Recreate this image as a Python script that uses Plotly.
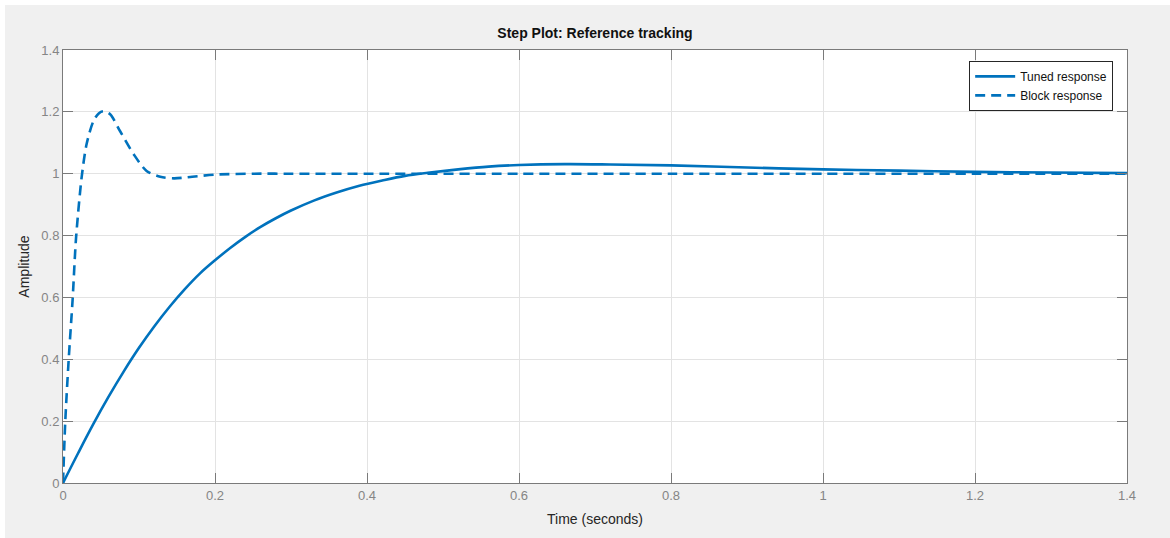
import plotly.graph_objects as go

# Tuned response
tuned_t = [0, 0.02, 0.04, 0.06, 0.08, 0.10, 0.12, 0.14, 0.16, 0.18, 0.20, 0.22, 0.24,
           0.26, 0.28, 0.30, 0.33, 0.36, 0.39, 0.42, 0.45, 0.48, 0.52, 0.56, 0.60,
           0.66, 0.72, 0.80, 0.90, 1.0, 1.1, 1.2, 1.3, 1.4]
tuned_a = [0, 0.097, 0.191, 0.279, 0.361, 0.437, 0.506, 0.569, 0.626, 0.677, 0.720, 0.760, 0.796,
           0.828, 0.856, 0.881, 0.913, 0.939, 0.961, 0.978, 0.993, 1.003, 1.014, 1.023, 1.028,
           1.031, 1.030, 1.027, 1.020, 1.014, 1.010, 1.006, 1.004, 1.002]

# Block response
block_t = [0, 0.003, 0.0075, 0.0127, 0.0171, 0.0246, 0.031, 0.04, 0.047, 0.053,
           0.062, 0.075, 0.093, 0.11, 0.128, 0.146, 0.17, 0.2, 0.25, 0.3, 0.4,
           0.6, 0.8, 1.0, 1.2, 1.4]
block_a = [0, 0.2, 0.4, 0.595, 0.79, 0.99, 1.095, 1.17, 1.195, 1.202,
           1.192, 1.138, 1.063, 1.009, 0.99, 0.985, 0.99, 0.997, 1.0, 1.0, 1.0,
           1.0, 1.0, 1.0, 1.0, 1.0]

x_ticks = [0, 0.2, 0.4, 0.6, 0.8, 1, 1.2, 1.4]
x_tick_labels = ["0", "0.2", "0.4", "0.6", "0.8", "1", "1.2", "1.4"]
y_ticks = [0, 0.2, 0.4, 0.6, 0.8, 1, 1.2, 1.4]
y_tick_labels = ["0", "0.2", "0.4", "0.6", "0.8", "1", "1.2", "1.4"]

BLUE = "#0072BD"
AX = "#7a7a7a"
FONT = "Liberation Sans, Arial, Helvetica, sans-serif"

fig = go.Figure()
fig.add_trace(go.Scatter(x=tuned_t, y=tuned_a, mode="lines", name="Tuned response",
                         line=dict(color=BLUE, width=2.6, shape="spline", smoothing=1.0)))
fig.add_trace(go.Scatter(x=block_t, y=block_a, mode="lines", name="Block response",
                         line=dict(color=BLUE, width=2.6, dash="10px,6px", shape="spline", smoothing=0.8)))

axis_common = dict(
    showline=True, linecolor=AX, linewidth=1, mirror="ticks",
    ticks="inside", ticklen=10, tickcolor=AX, tickwidth=1,
    showgrid=True, gridcolor="#e3e3e3", gridwidth=1, zeroline=False,
    tickfont=dict(family=FONT, size=13, color="#858585"),
)

fig.update_xaxes(range=[0, 1.4], tickvals=x_ticks, ticktext=x_tick_labels,
                 title=dict(text="Time (seconds)", font=dict(family=FONT, size=14, color="#262626"), standoff=12),
                 **axis_common)
fig.update_yaxes(range=[0, 1.4], tickvals=y_ticks, ticktext=y_tick_labels,
                 title=dict(text="Amplitude", font=dict(family=FONT, size=14, color="#262626"), standoff=8),
                 **axis_common)

fig.update_layout(
    width=1170, height=538,
    margin=dict(l=63, r=43, t=50, b=55),
    paper_bgcolor="#f0f0f0", plot_bgcolor="white",
    title=dict(text="<b>Step Plot: Reference tracking</b>", x=(63 + 1064 / 2) / 1170, xanchor="center",
               y=1 - 33 / 538, yanchor="middle", font=dict(family=FONT, size=14, color="#111111")),
    legend=dict(x=0.987, y=0.975, xanchor="right", yanchor="top", bgcolor="white",
                bordercolor="#262626", borderwidth=1, font=dict(family=FONT, size=12, color="#111111"),
                itemwidth=40, tracegroupgap=0),
    showlegend=True,
    shapes=[
        dict(type="rect", xref="paper", yref="paper", x0=-63 / 1064, x1=-58 / 1064,
             y0=-55 / 433, y1=(433 + 50) / 433, fillcolor="white", line=dict(width=0), layer="below"),
        dict(type="rect", xref="paper", yref="paper", x0=-63 / 1064, x1=(1064 + 43) / 1064,
             y0=(433 + 45) / 433, y1=(433 + 50) / 433, fillcolor="white", line=dict(width=0), layer="below"),
    ],
)

fig.write_html(
    "out.html",
    config={"displayModeBar": False},
    post_script=("document.body.style.margin='0';document.body.style.overflow='hidden';"
                 "document.body.style.background='#f0f0f0';"
                 "document.documentElement.style.background='#f0f0f0';"),
)
